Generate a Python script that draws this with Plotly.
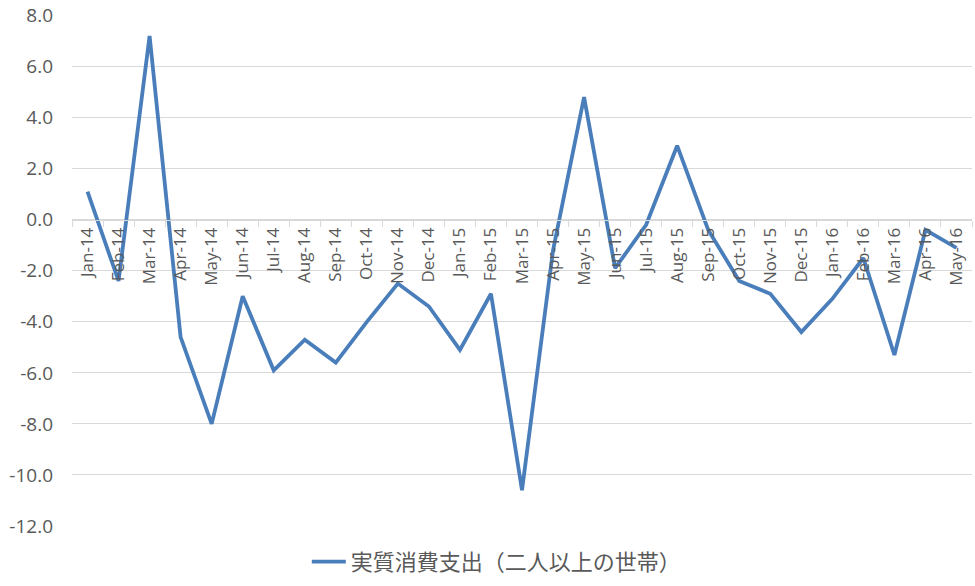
import plotly.graph_objects as go

months = ["Jan-14", "Feb-14", "Mar-14", "Apr-14", "May-14", "Jun-14", "Jul-14", "Aug-14",
          "Sep-14", "Oct-14", "Nov-14", "Dec-14", "Jan-15", "Feb-15", "Mar-15", "Apr-15",
          "May-15", "Jun-15", "Jul-15", "Aug-15", "Sep-15", "Oct-15", "Nov-15", "Dec-15",
          "Jan-16", "Feb-16", "Mar-16", "Apr-16", "May-16"]
values = [1.1, -2.4, 7.2, -4.6, -8.0, -3.0, -5.9, -4.7,
          -5.6, -4.0, -2.5, -3.4, -5.1, -2.9, -10.6, -1.2,
          4.8, -1.9, -0.2, 2.9, -0.4, -2.4, -2.9, -4.4,
          -3.1, -1.5, -5.3, -0.4, -1.1]
series_name = "実質消費支出（二人以上の世帯）"
y_ticks = [8, 6, 4, 2, 0, -2, -4, -6, -8, -10, -12]
y_tick_text = [f"{v:.1f}" for v in y_ticks]

grey = "#595959"
grid = "#d9d9d9"
y_min, y_max = -12, 8.02
zero_pos = (0 - y_min) / (y_max - y_min)

fig = go.Figure()
fig.add_trace(go.Scatter(
    x=months, y=values, mode="lines", name=series_name,
    line=dict(color="#4a7ebb", width=3.8),
))

fig.update_layout(
    width=975, height=586,
    margin=dict(l=72, r=3, t=15, b=60),
    paper_bgcolor="white", plot_bgcolor="white",
    font=dict(family="Open Sans, Noto Sans CJK JP", color=grey),
    showlegend=True,
    legend=dict(orientation="h", x=0.472, xanchor="center", y=-0.07, yanchor="middle",
                font=dict(size=22, color=grey, family="Noto Sans CJK JP"),
                itemwidth=34),
    xaxis=dict(
        type="category", anchor="free", position=zero_pos, automargin=False,
        showgrid=False, showline=True, linecolor=grid, linewidth=1.3,
        ticks="outside", tickson="boundaries", ticklen=6, tickcolor=grid,
        tickangle=-90, tickfont=dict(size=17, color=grey),
        range=[-0.5, len(months) - 0.5],
    ),
    yaxis=dict(
        range=[y_min, y_max], tickvals=y_ticks, ticktext=y_tick_text,
        automargin=False,
        showgrid=True, gridcolor=grid, gridwidth=1.3,
        zeroline=False, showline=False, ticks="",
        tickfont=dict(size=19, color=grey), ticklabelstandoff=18,
        ticklabeloverflow="allow",
    ),
)

fig.write_html("out.html",
               config={"displayModeBar": False},
               post_script="document.body.style.margin='0';document.body.style.overflow='hidden';")
